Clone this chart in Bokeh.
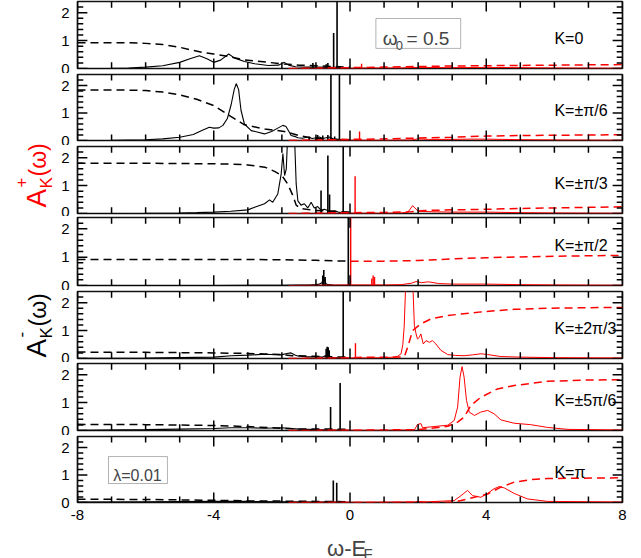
from math import pi
from bokeh.plotting import figure
from bokeh.layouts import row, column
from bokeh.models import Range1d, LinearAxis, FixedTicker, Label, BoxAnnotation
from bokeh.embed import file_html
from bokeh.resources import INLINE

FONT = "Liberation Sans"
RED = "#ff0000"
TICK = "black"

# ---------------- axis ticks ----------------
x_major = [-8, -4, 0, 4, 8]
x_major_labels = {-8: "-8", -4: "-4", 0: "0", 4: "4", 8: "8"}
x_minor = [-7, -6, -5, -3, -2, -1, 1, 2, 3, 5, 6, 7]
y_major = [0, 1, 2]
y_minor = [0.2, 0.4, 0.6, 0.8, 1.2, 1.4, 1.6, 1.8, 2.2]

k_labels = ["K=0", "K=\u00b1\u03c0/6", "K=\u00b1\u03c0/3", "K=\u00b1\u03c0/2",
            "K=\u00b12\u03c0/3", "K=\u00b15\u03c0/6", "K=\u03c0"]

# ---------------- K = 0 ----------------
k0_neg_x = [-8, -7, -6.5, -6, -5.5, -5, -4.7, -4.42, -4.2, -4.0, -3.8, -3.56, -3.4, -3.1, -2.8, -2.4, -2.1, -1.93, -1.8, -1.6, -1.3, -1.0, -0.6, -0.3, 0]
k0_neg_y = [0.0, 0.01, 0.02, 0.05, 0.1, 0.22, 0.35, 0.46, 0.35, 0.22, 0.3, 0.52, 0.38, 0.25, 0.17, 0.11, 0.12, 0.22, 0.12, 0.06, 0.05, 0.05, 0.04, 0.03, 0.0]
k0_neg_spk_x = [-1.09, -0.7, -0.65, -0.48, -0.38]
k0_neg_spk_h = [0.2, 0.15, 0.2, 1.27, 3.0]
k0_neg_cum_x = [-8, -6.5, -6, -5.5, -5.0, -4.35, -4.0, -3.56, -3.1, -2.4, -1.93, -1.5, -1.0, -0.48, 0]
k0_neg_cum_y = [0.92, 0.92, 0.9, 0.86, 0.76, 0.58, 0.52, 0.43, 0.31, 0.22, 0.16, 0.12, 0.1, 0.07, 0.05]
k0_pos_x = [-1.8, 0, 0.5, 1.5, 2.0, 3.0, 4.0, 5.0, 6.0, 8.0]
k0_pos_y = [0, 0.01, 0.02, 0.02, 0.04, 0.03, 0.04, 0.03, 0.02, 0.01]
k0_pos_spk_x = [0.34]
k0_pos_spk_h = [0.17]
k0_pos_cum_x = [-1.8, 0, 1, 2, 3, 4, 5, 6, 7, 8]
k0_pos_cum_y = [0, 0.03, 0.05, 0.07, 0.09, 0.1, 0.11, 0.12, 0.13, 0.14]

# ---------------- K = pi/6 ----------------
k1_neg_x = [-8, -7, -6, -5.5, -5.0, -4.6, -4.35, -4.13, -4.0, -3.85, -3.73, -3.6, -3.49, -3.4, -3.34, -3.27, -3.2, -3.1, -2.9, -2.7, -2.51, -2.3, -2.12, -1.97, -1.88, -1.78, -1.73, -1.6, -1.53, -1.4, -1.3, -1.24, -1.1, -1.0, -0.9, -0.8, -0.7, -0.6, -0.5, -0.4, -0.2, 0]
k1_neg_y = [0.0, 0.01, 0.03, 0.06, 0.12, 0.22, 0.36, 0.48, 0.45, 0.46, 0.55, 0.8, 1.3, 1.85, 2.07, 1.85, 1.1, 0.6, 0.36, 0.3, 0.24, 0.33, 0.45, 0.55, 0.51, 0.3, 0.18, 0.14, 0.1, 0.08, 0.11, 0.12, 0.07, 0.1, 0.13, 0.07, 0.1, 0.13, 0.06, 0.05, 0.02, 0.0]
k1_neg_spk_x = [-1.2, -0.95, -0.8, -0.65, -0.56, -0.45, -0.31]
k1_neg_spk_h = [0.15, 0.2, 0.18, 0.2, 3.0, 0.15, 3.0]
k1_neg_cum_x = [-8, -7, -6, -5.5, -5, -4.5, -4, -3.5, -3.1, -2.5, -1.93, -1.5, -1.05, -0.5, 0]
k1_neg_cum_y = [1.84, 1.84, 1.82, 1.76, 1.66, 1.5, 1.27, 0.88, 0.57, 0.42, 0.33, 0.18, 0.08, 0.04, 0.03]
k1_pos_x = [-1.8, 0, 1, 1.8, 2.0, 2.3, 3, 3.5, 4, 5, 6, 8]
k1_pos_y = [0, 0.01, 0.01, 0.02, 0.06, 0.04, 0.04, 0.05, 0.05, 0.03, 0.02, 0.01]
k1_pos_spk_x = [0.28]
k1_pos_spk_h = [0.33]
k1_pos_cum_x = [-1.8, 0, 1, 2, 3, 4, 5, 6, 8]
k1_pos_cum_y = [0, 0.04, 0.06, 0.09, 0.12, 0.16, 0.18, 0.19, 0.21]

# ---------------- K = pi/3 ----------------
k2_neg_x = [-8, -6, -5, -4.5, -4, -3.5, -3.0, -2.8, -2.51, -2.36, -2.27, -2.12, -2.02, -1.97, -1.92, -1.87, -1.83, -1.78, -1.73, -1.68, -1.63, -1.58, -1.53, -1.44, -1.34, -1.24, -1.14, -1.05, -0.95, -0.85, -0.75, -0.6, -0.45, -0.35, -0.25, 0]
k2_neg_y = [0.0, 0.01, 0.02, 0.03, 0.05, 0.08, 0.13, 0.22, 0.35, 0.49, 0.4, 0.7, 1.42, 2.15, 1.36, 1.6, 2.8, 2.8, 2.8, 2.8, 2.8, 1.06, 0.45, 0.3, 0.35, 0.2, 0.4, 0.2, 0.25, 0.12, 0.15, 0.08, 0.1, 0.05, 0.03, 0.0]
k2_neg_spk_x = [-0.85, -0.65, -0.6, -0.2]
k2_neg_spk_h = [0.82, 2.08, 0.68, 3.0]
k2_neg_cum_x = [-8, -6, -5, -4, -3.5, -3, -2.5, -2.2, -2.0, -1.83, -1.68, -1.58, -1.44, -1.05, -0.3, 0]
k2_neg_cum_y = [1.8, 1.8, 1.79, 1.78, 1.77, 1.74, 1.66, 1.5, 1.36, 1.06, 0.65, 0.3, 0.18, 0.11, 0.07, 0.05]
k2_pos_x = [-1.8, 0, 1, 1.5, 1.7, 1.84, 2.0, 2.5, 3, 4, 5, 6, 8]
k2_pos_y = [0, 0.01, 0.01, 0.02, 0.05, 0.28, 0.08, 0.06, 0.05, 0.05, 0.03, 0.02, 0.01]
k2_pos_spk_x = [0.15]
k2_pos_spk_h = [1.33]
k2_pos_cum_x = [-1.8, 0, 1, 1.8, 2.2, 3, 4, 5, 6, 7, 8]
k2_pos_cum_y = [0, 0.03, 0.04, 0.06, 0.11, 0.13, 0.15, 0.18, 0.2, 0.22, 0.24]

# ---------------- K = pi/2 ----------------
k3_neg_x = [-8, -4, -2, -1.5, -1.2, -1.0, -0.9, -0.82, -0.78, -0.74, -0.7, -0.65, -0.5, -0.3, -0.1, 0]
k3_neg_y = [0, 0.0, 0.01, 0.02, 0.02, 0.03, 0.05, 0.1, 0.3, 0.15, 0.06, 0.03, 0.02, 0.01, 0.01, 0]
k3_neg_spk_x = [-0.8, -0.77, -0.73, -0.05]
k3_neg_spk_h = [0.35, 0.55, 0.3, 3.0]
k3_neg_cum_x = [-8, -4, -2, -1, -0.5, -0.05]
k3_neg_cum_y = [0.92, 0.92, 0.91, 0.89, 0.87, 0.86]
k3_pos_x = [-1.8, 0, 0.5, 1, 1.5, 1.8, 1.94, 2.1, 2.3, 2.6, 3, 4, 5, 6, 8]
k3_pos_y = [0, 0.02, 0.02, 0.02, 0.03, 0.08, 0.14, 0.1, 0.13, 0.07, 0.05, 0.05, 0.03, 0.02, 0.01]
k3_pos_spk_x = [0.02, 0.64, 0.68, 0.72]
k3_pos_spk_h = [3.0, 0.25, 0.35, 0.3]
k3_pos_cum_x = [0.02, 1, 2, 2.5, 3, 4, 5, 6, 7, 8]
k3_pos_cum_y = [0.86, 0.86, 0.88, 0.91, 0.94, 0.98, 1.01, 1.03, 1.05, 1.06]

# ---------------- K = 2pi/3 ----------------
k4_neg_x = [-8, -6, -4, -3.49, -3, -2.51, -2.02, -1.85, -1.73, -1.6, -1.53, -1.3, -1.05, -0.8, -0.72, -0.6, -0.5, -0.3, 0]
k4_neg_y = [0.01, 0.02, 0.05, 0.1, 0.12, 0.15, 0.13, 0.18, 0.2, 0.12, 0.09, 0.06, 0.06, 0.05, 0.1, 0.06, 0.03, 0.02, 0]
k4_neg_spk_x = [-0.7, -0.67, -0.64, -0.61, -0.2]
k4_neg_spk_h = [0.35, 0.42, 0.4, 0.3, 3.0]
k4_neg_cum_x = [-8, -6, -4, -3, -2.5, -2, -1.7, -1.0, -0.5, 0]
k4_neg_cum_y = [0.23, 0.22, 0.2, 0.18, 0.16, 0.14, 0.1, 0.08, 0.06, 0.05]
k4_pos_x = [-1.8, 0, 0.5, 1.0, 1.3, 1.4, 1.5, 1.55, 1.59, 1.64, 1.7, 1.8, 1.84, 1.89, 1.94, 1.98, 2.03, 2.08, 2.15, 2.23, 2.33, 2.42, 2.52, 2.67, 2.87, 3.1, 3.35, 3.6, 3.84, 4.04, 4.43, 5, 6, 8]
k4_pos_y = [0, 0.02, 0.02, 0.03, 0.05, 0.08, 0.17, 0.5, 1.12, 2.8, 2.8, 2.8, 2.8, 1.18, 0.88, 0.7, 0.75, 0.88, 0.52, 0.64, 0.58, 0.64, 0.52, 0.29, 0.14, 0.11, 0.1, 0.13, 0.17, 0.14, 0.07, 0.05, 0.03, 0.02]
k4_pos_spk_x = [0.16]
k4_pos_spk_h = [0.55]
k4_pos_cum_x = [-1.8, 0, 0.2, 1.5, 1.6, 1.69, 1.84, 2.08, 2.38, 2.87, 3.84, 4.82, 5.8, 7, 8]
k4_pos_cum_y = [0, 0.02, 0.04, 0.05, 0.08, 0.4, 1.0, 1.24, 1.42, 1.54, 1.67, 1.76, 1.8, 1.82, 1.83]

# ---------------- K = 5pi/6 ----------------
k5_neg_x = [-8, -6, -5, -4, -3.5, -3, -2.5, -2, -1.5, -1, -0.6, 0]
k5_neg_y = [0.01, 0.03, 0.05, 0.07, 0.1, 0.1, 0.08, 0.1, 0.05, 0.03, 0.02, 0]
k5_neg_spk_x = [-0.57, -0.29]
k5_neg_spk_h = [0.84, 1.7]
k5_neg_cum_x = [-8, -6, -4, -3, -2, -1.5, -1, -0.5, 0]
k5_neg_cum_y = [0.22, 0.21, 0.18, 0.14, 0.08, 0.06, 0.05, 0.05, 0.04]
k5_pos_x = [-1.8, 0, 1, 1.89, 1.98, 2.08, 2.13, 2.38, 2.87, 3.06, 3.16, 3.23, 3.29, 3.35, 3.42, 3.5, 3.65, 3.84, 4.04, 4.23, 4.43, 4.82, 5.3, 5.8, 6.4, 8]
k5_pos_y = [0, 0.01, 0.01, 0.02, 0.21, 0.25, 0.1, 0.13, 0.19, 0.36, 0.84, 1.91, 2.29, 1.91, 1.08, 0.66, 0.54, 0.66, 0.72, 0.6, 0.38, 0.26, 0.21, 0.11, 0.04, 0.02]
k5_pos_spk_x = []
k5_pos_spk_h = []
k5_pos_cum_x = [-1.8, 0, 2, 2.38, 2.87, 3.16, 3.35, 3.55, 3.84, 4.33, 4.82, 5.8, 7, 8]
k5_pos_cum_y = [0, 0.01, 0.03, 0.08, 0.15, 0.3, 0.48, 0.9, 1.19, 1.49, 1.61, 1.76, 1.81, 1.82]

# ---------------- K = pi ----------------
k6_neg_x = [-8, -6, -4, -3, -2, -1, -0.6, 0]
k6_neg_y = [0.02, 0.03, 0.04, 0.04, 0.03, 0.02, 0.02, 0]
k6_neg_spk_x = [-0.49, -0.39]
k6_neg_spk_h = [0.8, 0.72]
k6_neg_cum_x = [-8, -6, -4, -3, -2, -1, 0]
k6_neg_cum_y = [0.12, 0.11, 0.08, 0.06, 0.05, 0.04, 0.03]
k6_pos_x = [-1.8, 0, 1.9, 2.0, 2.2, 3.06, 3.26, 3.45, 3.6, 3.84, 4.04, 4.23, 4.38, 4.53, 4.82, 5.21, 5.8, 8]
k6_pos_y = [0, 0.01, 0.02, 0.04, 0.02, 0.07, 0.25, 0.44, 0.25, 0.19, 0.33, 0.5, 0.58, 0.53, 0.33, 0.13, 0.04, 0.02]
k6_pos_spk_x = []
k6_pos_spk_h = []
k6_pos_cum_x = [-1.8, 0, 3, 3.26, 3.65, 4.04, 4.43, 4.82, 5.3, 5.8, 8]
k6_pos_cum_y = [0, 0.0, 0.01, 0.07, 0.19, 0.31, 0.56, 0.74, 0.83, 0.87, 0.9]

panels = [
    (k0_neg_x, k0_neg_y, k0_neg_spk_x, k0_neg_spk_h, k0_neg_cum_x, k0_neg_cum_y, k0_pos_x, k0_pos_y, k0_pos_spk_x, k0_pos_spk_h, k0_pos_cum_x, k0_pos_cum_y),
    (k1_neg_x, k1_neg_y, k1_neg_spk_x, k1_neg_spk_h, k1_neg_cum_x, k1_neg_cum_y, k1_pos_x, k1_pos_y, k1_pos_spk_x, k1_pos_spk_h, k1_pos_cum_x, k1_pos_cum_y),
    (k2_neg_x, k2_neg_y, k2_neg_spk_x, k2_neg_spk_h, k2_neg_cum_x, k2_neg_cum_y, k2_pos_x, k2_pos_y, k2_pos_spk_x, k2_pos_spk_h, k2_pos_cum_x, k2_pos_cum_y),
    (k3_neg_x, k3_neg_y, k3_neg_spk_x, k3_neg_spk_h, k3_neg_cum_x, k3_neg_cum_y, k3_pos_x, k3_pos_y, k3_pos_spk_x, k3_pos_spk_h, k3_pos_cum_x, k3_pos_cum_y),
    (k4_neg_x, k4_neg_y, k4_neg_spk_x, k4_neg_spk_h, k4_neg_cum_x, k4_neg_cum_y, k4_pos_x, k4_pos_y, k4_pos_spk_x, k4_pos_spk_h, k4_pos_cum_x, k4_pos_cum_y),
    (k5_neg_x, k5_neg_y, k5_neg_spk_x, k5_neg_spk_h, k5_neg_cum_x, k5_neg_cum_y, k5_pos_x, k5_pos_y, k5_pos_spk_x, k5_pos_spk_h, k5_pos_cum_x, k5_pos_cum_y),
    (k6_neg_x, k6_neg_y, k6_neg_spk_x, k6_neg_spk_h, k6_neg_cum_x, k6_neg_cum_y, k6_pos_x, k6_pos_y, k6_pos_spk_x, k6_pos_spk_h, k6_pos_cum_x, k6_pos_cum_y),
]
k_label_y = [1.08, 1.08, 1.08, 1.41, 1.08, 1.08, 1.08]

# layout: (border top, frame height, border bottom) per panel
geom = [(1, 67, 5), (1, 66, 5), (1, 67, 3), (1, 68, 5), (1, 67, 4), (1, 67, 5), (1, 66, 26)]

LW = 58          # width of the label strip on the left
PW = 641 - LW
XMIN, XMAX, YMIN, YMAX = -8, 8, 0, 2.4
# inward tick lengths (data units: ~10 px major, ~6 px minor)
TX_MAJ, TX_MIN = 0.29, 0.17     # horizontal ticks on the left/right edges
TY_MAJ, TY_MIN = 0.36, 0.22     # vertical ticks on the bottom/top edges


def add_ticks(p):
    """inward tick marks on all four sides of a panel"""
    kw = dict(line_color=TICK, line_width=1.5)
    for ys, ln in ((y_major, TX_MAJ), (y_minor, TX_MIN)):
        n = len(ys)
        p.segment(x0=[XMIN] * n, y0=ys, x1=[XMIN + ln] * n, y1=ys, **kw)
        p.segment(x0=[XMAX] * n, y0=ys, x1=[XMAX - ln] * n, y1=ys, **kw)
    for xs, ln in ((x_major, TY_MAJ), (x_minor, TY_MIN)):
        n = len(xs)
        p.segment(x0=xs, y0=[YMIN] * n, x1=xs, y1=[YMIN + ln] * n, **kw)
        p.segment(x0=xs, y0=[YMAX] * n, x1=xs, y1=[YMAX - ln] * n, **kw)


figs = []
for i, (pd_, g) in enumerate(zip(panels, geom)):
    (nx, ny, nsx, nsh, ncx, ncy, px, py, psx, psh, pcx, pcy) = pd_
    bt, fh, bb = g
    p = figure(width=PW, height=bt + fh + bb, x_range=Range1d(XMIN, XMAX), y_range=Range1d(YMIN, YMAX),
               x_axis_type=None, y_axis_type=None, output_backend="svg", toolbar_location=None,
               min_border_left=76 - LW, min_border_right=19, min_border_top=bt, min_border_bottom=bb)
    p.outline_line_color = "#111111"
    p.outline_line_width = 1.7
    p.background_fill_color = "white"
    p.border_fill_color = "white"

    yax = LinearAxis(ticker=FixedTicker(ticks=y_major, minor_ticks=[]),
                     major_tick_in=0, major_tick_out=0, minor_tick_in=0, minor_tick_out=0,
                     axis_line_color=None, major_label_text_font=FONT,
                     major_label_text_font_size="15px", major_label_standoff=8,
                     major_label_text_color="black")
    p.add_layout(yax, "left")
    if i == 6:
        xax = LinearAxis(ticker=FixedTicker(ticks=x_major, minor_ticks=[]),
                         major_tick_in=0, major_tick_out=0, minor_tick_in=0, minor_tick_out=0,
                         axis_line_color=None, major_label_text_font=FONT,
                         major_label_text_font_size="15px", major_label_standoff=7,
                         major_label_text_color="black", major_label_overrides=x_major_labels)
        p.add_layout(xax, "below")

    # occupied states (black)
    p.line(nx, ny, color="black", line_width=1.1)
    if nsx:
        p.segment(x0=nsx, y0=[0] * len(nsx), x1=nsx, y1=nsh, color="black", line_width=1.6)
    p.line(ncx, ncy, color="black", line_width=1.5, line_dash="8 5")
    # unoccupied states (red)
    p.line(px, py, color=RED, line_width=1.0)
    if psx:
        p.segment(x0=psx, y0=[0] * len(psx), x1=psx, y1=psh, color=RED, line_width=1.4)
    p.line(pcx, pcy, color=RED, line_width=1.5, line_dash="8 5")

    # inward tick marks
    add_ticks(p)

    p.add_layout(Label(x=6.0, y=k_label_y[i], text=k_labels[i], text_font=FONT,
                       text_font_size="16px", text_color="black", text_baseline="alphabetic"))
    figs.append(p)

# omega_0 annotation (first panel)
p0 = figs[0]
p0.add_layout(BoxAnnotation(left=0.76, right=3.25, bottom=0.72, top=1.79, fill_alpha=0,
                            line_color="black", line_width=1.0))
p0.add_layout(Label(x=0.96, y=1.06, text="\u03c9", text_font=FONT, text_font_size="19px",
                    text_baseline="alphabetic"))
p0.add_layout(Label(x=1.34, y=0.82, text="0", text_font=FONT, text_font_size="13px",
                    text_baseline="alphabetic"))
p0.add_layout(Label(x=1.66, y=1.06, text="= 0.5", text_font=FONT, text_font_size="19px",
                    text_baseline="alphabetic"))

# lambda annotation (last panel)
p6 = figs[6]
p6.add_layout(BoxAnnotation(left=-7.09, right=-5.36, bottom=0.69, top=1.67, fill_alpha=0,
                            line_color="black", line_width=1.0))
p6.add_layout(Label(x=-6.95, y=0.98, text="\u03bb=0.01", text_font=FONT, text_font_size="16px",
                    text_baseline="alphabetic"))

# bottom strip with the x-axis title (coordinates = page pixels)
xlab = figure(width=PW, height=30, x_range=Range1d(LW, 641), y_range=Range1d(558, 528),
              x_axis_type=None, y_axis_type=None, output_backend="svg", toolbar_location=None,
              min_border=0)
xlab.outline_line_color = None
xlab.border_fill_color = "white"
xlab.add_layout(Label(x=325, y=548, text="\u03c9-E", text_font=FONT, text_font_size="22px",
                      text_baseline="alphabetic"))
xlab.add_layout(Label(x=364, y=553, text="F", text_font=FONT, text_font_size="15px",
                      text_baseline="alphabetic"))

# left strip with the y-axis titles (coordinates = page pixels)
lab = figure(width=LW, height=558, x_range=Range1d(0, LW), y_range=Range1d(558, 0),
             x_axis_type=None, y_axis_type=None, output_backend="svg", toolbar_location=None,
             min_border=0)
lab.outline_line_color = None
lab.border_fill_color = "white"


def ylabel(color, sign, y0):
    lab.add_layout(Label(x=36, y=y0, text="A", angle=pi / 2, text_font=FONT, text_font_size="28px",
                         text_color=color, text_baseline="alphabetic"))
    lab.add_layout(Label(x=20, y=y0 - 20, text=sign, angle=pi / 2, text_font=FONT, text_font_size="17px",
                         text_color=color, text_baseline="alphabetic"))
    lab.add_layout(Label(x=46, y=y0 - 19, text="K", angle=pi / 2, text_font=FONT, text_font_size="17px",
                         text_color=color, text_baseline="alphabetic"))
    lab.add_layout(Label(x=37, y=y0 - 31, text="(\u03c9)", angle=pi / 2, text_font=FONT, text_font_size="23px",
                         text_color=color, text_baseline="alphabetic"))


ylabel(RED, "+", 207)
ylabel("black", "-", 357)

layout = row(lab, column(*figs, xlab))
open("out.html", "w").write(file_html(layout, INLINE))
